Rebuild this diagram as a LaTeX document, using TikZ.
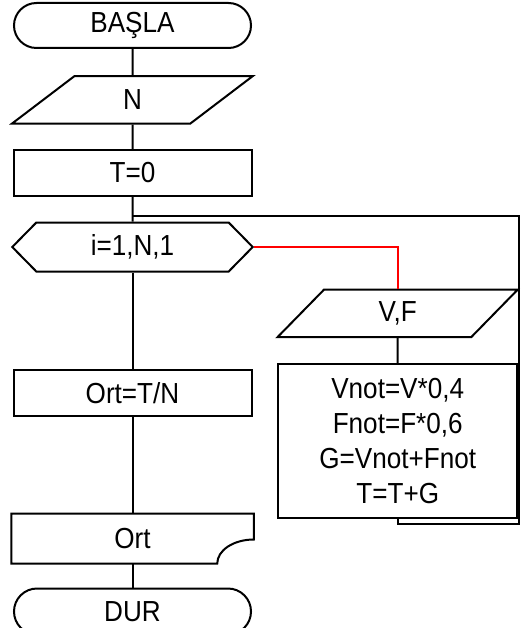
\documentclass[tikz,border=0pt]{standalone}
\usepackage{fontspec}
\setmainfont{Liberation Sans}[FakeStretch=0.9]
\usepackage{tikz}
\usetikzlibrary{positioning,shapes.geometric,shapes.misc,shapes.symbols}
\tikzset{
  base/.style={draw,align=center,font={\fontsize{29}{35}\selectfont},inner sep=0pt,line width=2pt},
  tnode/.style={base,rounded rectangle,minimum width=237pt,minimum height=45pt},
  inode/.style={base,trapezium,trapezium stretches=true,trapezium left angle=63,trapezium right angle=117,minimum width=241pt,minimum height=47.5pt},
  pnode/.style={base,rectangle,minimum width=238pt,minimum height=45.5pt},
  lnode/.style={base,signal,signal to=west and east,signal pointer angle=91,minimum width=240.5pt,minimum height=49pt},
  onode/.style={base,draw=none,rectangle,minimum width=240.5pt,minimum height=48pt},
  link/.style={line width=2pt}}
\begin{document}
\begin{tikzpicture}[x=1pt,y=1pt]
\useasboundingbox (0,0) rectangle (520,-628);
\node[tnode] (start) at (132.5,-25.5) {BAŞLA};
\node[inode, below=26pt of start] (read) {N};
\node[pnode, below=24.5pt of read] (init) {T=0};
\node[lnode, below=25pt of init] (loop) {i=1,N,1};
\node[pnode, below=96.5pt of loop] (avg) {Ort=T/N};
\node[onode, below=97pt of avg] (show) {Ort};
\node[tnode, minimum height=46pt, below=24pt of show] (stop) {DUR};
\node[inode] (readvf) at (397.7,-313.3) {V,F};
\node[pnode, minimum width=239.5pt, minimum height=153.5pt, below=25pt of readvf] (calc) {Vnot=V*0,4\\ Fnot=F*0,6\\ G=Vnot+Fnot\\ T=T+G};
\coordinate[below=19pt of init] (join);
\coordinate (back) at (519,-524);
\draw[link] (show.north west) -- (show.north east) -- ([yshift=24pt]show.south east)
      arc[start angle=90,end angle=180,x radius=36.5pt,y radius=24pt] -- (show.south west) -- cycle;
\draw[link] (start) -- (read); \draw[link] (read) -- (init); \draw[link] (init) -- (loop);
\draw[link] (loop) -- (avg); \draw[link] (avg) -- (show); \draw[link] (show) -- (stop);
\draw[link,red] (loop.east) -| (readvf.north);
\draw[link] (readvf) -- (calc);
\draw[link] (calc.south) |- (back) |- (join);
\end{tikzpicture}
\end{document}
